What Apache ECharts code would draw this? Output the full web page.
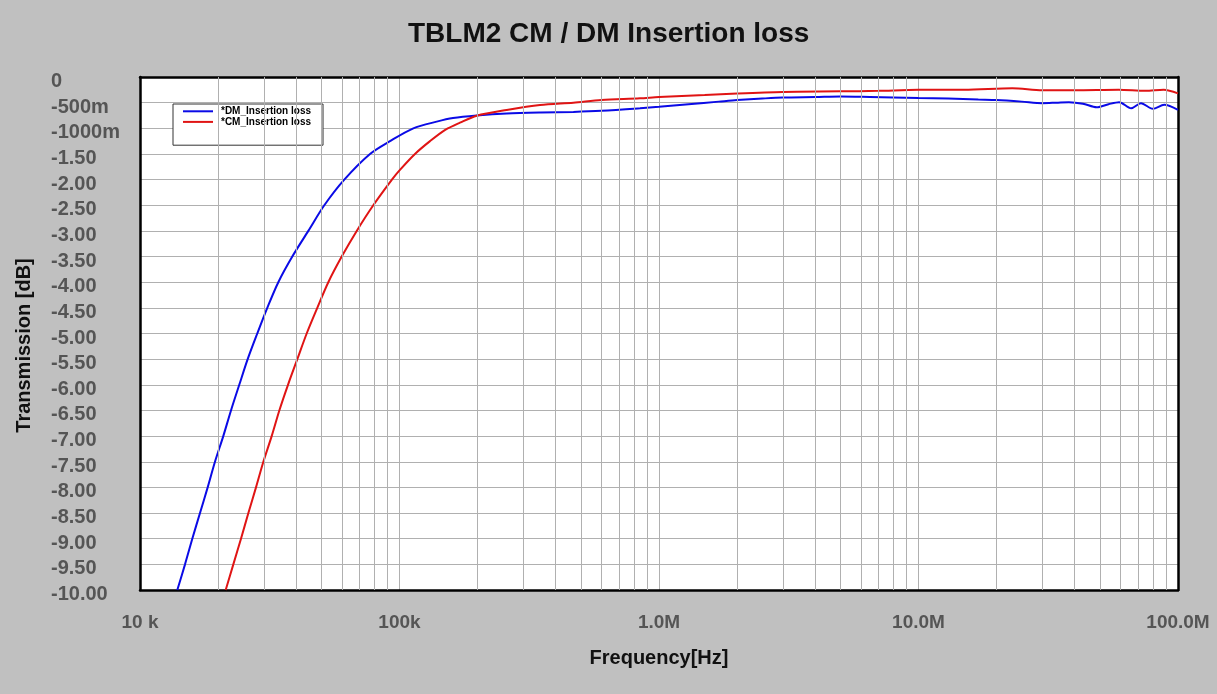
<!DOCTYPE html>
<html>
<head>
<meta charset="utf-8">
<script src="https://cdn.jsdelivr.net/npm/echarts@6/dist/echarts.min.js"></script>
<style>
html,body{margin:0;padding:0;background:#c0c0c0;}
#chart{width:1217px;height:694px;}
</style>
</head>
<body>
<div id="chart"></div>
<script>
// ---- Data ----
var titleText = 'TBLM2 CM / DM Insertion loss';
var seriesNames = ['*DM_Insertion loss', '*CM_Insertion loss'];

var dmFreq = [13925, 14910, 15905, 17030, 18230, 19450, 20940, 22420, 24130, 26000, 28310, 30940, 34120, 38630, 44530, 51310, 61270, 76980, 91910, 113040, 139130, 160800, 198400, 258800, 350000, 468000, 600000, 845000, 1.0e6, 1.3e6, 1.7e6, 2.0e6, 2.5e6, 3.0e6, 4.0e6, 5.0e6, 6.5e6, 8.0e6, 1.0e7, 1.3e7, 1.7e7, 2.0e7, 2.5e7, 3.0e7, 3.4e7, 3.8e7, 4.3e7, 4.86e7, 5.4e7, 5.93e7, 6.6e7, 7.2e7, 8.0e7, 8.85e7, 1.0e8];
var dmVal  = [-10.0, -9.5, -9.0, -8.5, -8.0, -7.5, -7.0, -6.5, -6.0, -5.5, -5.0, -4.5, -4.0, -3.5, -3.0, -2.5, -2.0, -1.5, -1.25, -1.0, -0.87, -0.80, -0.75, -0.71, -0.69, -0.68, -0.66, -0.61, -0.58, -0.53, -0.48, -0.45, -0.42, -0.40, -0.39, -0.38, -0.39, -0.40, -0.41, -0.42, -0.44, -0.45, -0.48, -0.51, -0.50, -0.49, -0.52, -0.59, -0.53, -0.49, -0.61, -0.51, -0.62, -0.54, -0.64];

var cmFreq = [21390, 22890, 24500, 26160, 27990, 29880, 32170, 34430, 37180, 40390, 43890, 48220, 53170, 59890, 68410, 79250, 93500, 100000, 114700, 131100, 150000, 171000, 198400, 258800, 347800, 467700, 600000, 845000, 1.0e6, 1.5e6, 2.0e6, 3.0e6, 5.0e6, 7.0e6, 1.0e7, 1.5e7, 2.3e7, 3.0e7, 4.0e7, 5.9e7, 7.5e7, 8.8e7, 1.0e8];
var cmVal  = [-10.0, -9.5, -9.0, -8.5, -8.0, -7.5, -7.0, -6.5, -6.0, -5.5, -5.0, -4.5, -4.0, -3.5, -3.0, -2.5, -2.0, -1.82, -1.5, -1.25, -1.03, -0.89, -0.754, -0.643, -0.546, -0.50, -0.45, -0.416, -0.39, -0.35, -0.32, -0.29, -0.28, -0.27, -0.25, -0.25, -0.22, -0.26, -0.26, -0.25, -0.27, -0.25, -0.32];

var xTickValues = [1e4, 1e5, 1e6, 1e7, 1e8];
var xTickLabels = ['10 k', '100k', '1.0M', '10.0M', '100.0M'];
var minorMultipliers = [2, 3, 4, 5, 6, 7, 8, 9];
var decades = [1e4, 1e5, 1e6, 1e7];

// ---- Build ----
function pairs(xs, ys) { return xs.map(function (x, i) { return [x, ys[i]]; }); }
var minorLines = [];
decades.forEach(function (d) { minorMultipliers.forEach(function (m) { minorLines.push({ xAxis: d * m }); }); });

var FONT = 'Arial, "Liberation Sans", sans-serif';
var GRIDC = '#b0b0b0';
var borderLine = { show: true, onZero: false, lineStyle: { color: '#000', width: 2.5 } };

var chart = echarts.init(document.getElementById('chart'));
chart.setOption({
  animation: false,
  backgroundColor: '#c0c0c0',
  title: {
    text: titleText, left: 408, top: 20, padding: 0,
    textStyle: { fontFamily: FONT, fontSize: 28, fontWeight: 'bold', color: '#111' }
  },
  legend: {
    data: seriesNames, orient: 'vertical', left: 173, top: 104,
    backgroundColor: '#fff', borderColor: '#333', borderWidth: 1,
    padding: [2, 12, 18, 10], itemGap: 0, itemWidth: 30, itemHeight: 2, icon: 'rect',
    textStyle: { fontFamily: FONT, fontSize: 10, fontWeight: 'bold', color: '#000', lineHeight: 10.6, padding: [0, 0, 0, 3] }
  },
  grid: {
    left: 140, right: 39, top: 77, bottom: 104, containLabel: false, outerBoundsMode: 'none',
    show: true, backgroundColor: '#fff', borderWidth: 0
  },
  xAxis: [{
    type: 'log', logBase: 10, min: 1e4, max: 1e8, position: 'bottom',
    name: 'Frequency[Hz]', nameLocation: 'middle', nameGap: 58,
    nameTextStyle: { fontFamily: FONT, fontSize: 20, fontWeight: 'bold', color: '#111' },
    axisLine: borderLine, axisTick: { show: false },
    axisLabel: {
      margin: 23, showMinLabel: true, showMaxLabel: true, hideOverlap: false,
      fontFamily: FONT, fontSize: 19, fontWeight: 'bold', color: '#555',
      formatter: function (v) {
        for (var i = 0; i < xTickValues.length; i++) {
          if (Math.abs(Math.log10(v) - Math.log10(xTickValues[i])) < 1e-6) return xTickLabels[i];
        }
        return '';
      }
    },
    splitLine: { show: true, lineStyle: { color: GRIDC, width: 1 } }
  }, {
    type: 'log', logBase: 10, min: 1e4, max: 1e8, position: 'top',
    axisLine: borderLine, axisTick: { show: false }, axisLabel: { show: false }, splitLine: { show: false }
  }],
  yAxis: [{
    type: 'value', min: -10, max: 0, interval: 0.5, position: 'left',
    name: 'Transmission [dB]', nameLocation: 'middle', nameGap: 106,
    nameTextStyle: { fontFamily: FONT, fontSize: 20, fontWeight: 'bold', color: '#111', padding: [0, 24, 0, 0] },
    axisLine: borderLine, axisTick: { show: false },
    axisLabel: {
      align: 'left', verticalAlign: 'top', lineHeight: 9, margin: 89, showMinLabel: true, showMaxLabel: true,
      fontFamily: FONT, fontSize: 20, fontWeight: 'bold', color: '#555',
      formatter: function (v) {
        if (Math.abs(v) < 1e-9) return '0';
        if (v > -1.25) return Math.round(v * 1000) + 'm';
        return v.toFixed(2);
      }
    },
    splitLine: { show: true, lineStyle: { color: GRIDC, width: 1 } }
  }, {
    type: 'value', min: -10, max: 0, interval: 0.5, position: 'right',
    axisLine: borderLine, axisTick: { show: false }, axisLabel: { show: false }, splitLine: { show: false }
  }],
  series: [
    {
      name: 'grid-minor', type: 'line', data: [], z: 1, silent: true,
      markLine: {
        silent: true, symbol: 'none', animation: false,
        label: { show: false },
        lineStyle: { color: GRIDC, width: 1, type: 'solid' },
        emphasis: { disabled: true },
        data: minorLines
      }
    },
    {
      name: seriesNames[0], type: 'line', data: pairs(dmFreq, dmVal), z: 3,
      showSymbol: false, smooth: 0.3, color: '#0a0ae6',
      lineStyle: { color: '#0a0ae6', width: 2 }
    },
    {
      name: seriesNames[1], type: 'line', data: pairs(cmFreq, cmVal), z: 3,
      showSymbol: false, smooth: 0.3, color: '#e01414',
      lineStyle: { color: '#e01414', width: 2 }
    }
  ]
});
</script>
</body>
</html>
